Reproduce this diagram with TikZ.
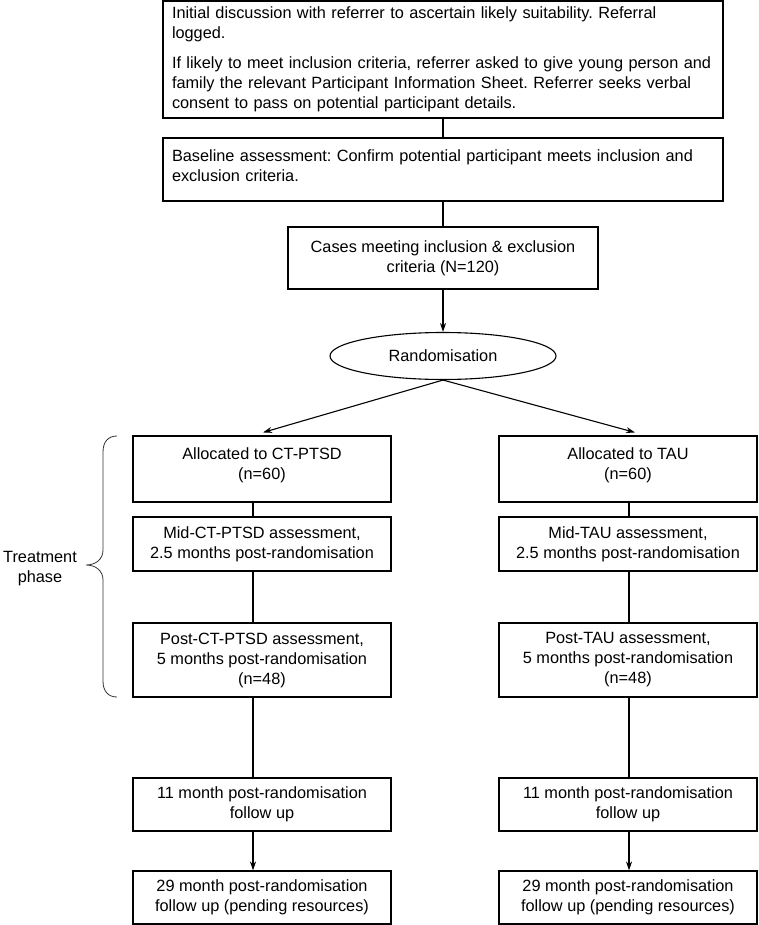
\documentclass[tikz,border=0pt]{standalone}
\usepackage{fontspec}
\setmainfont{Liberation Sans}
\usetikzlibrary{shapes.geometric,arrows.meta}
\frenchspacing
\begin{document}
\begin{tikzpicture}[x=1pt,y=-1pt,
  font=\fontsize{16.3}{20}\selectfont,
  box/.style={draw,line width=1.1pt,align=center,inner sep=0pt,minimum width=258pt},
  widebox/.style={draw,line width=1.1pt,align=left,inner xsep=9pt,inner ysep=0pt,text width=542pt},
  arr/.style={line width=1.1pt,-{Stealth[length=9pt,width=6pt]}},
  ln/.style={line width=1.1pt}]
\useasboundingbox (0,0) rectangle (758,925);

% top part
\node[widebox,minimum height=117pt] (init) at (443,59.5) {Initial discussion with referrer to ascertain likely suitability. Referral\\logged.\\[10pt]If likely to meet inclusion criteria, referrer asked to give young person and\\family the relevant Participant Information Sheet. Referrer seeks verbal\\consent to pass on potential participant details.};
\node[widebox,minimum height=63pt] (base) at (443,169.5) {Baseline assessment: Confirm potential participant meets inclusion and\\exclusion criteria.\\[-13pt]\mbox{}};
\node[box,minimum width=310pt,minimum height=62pt] (cases) at (443,258) {Cases meeting inclusion \& exclusion\\criteria (N=120)};
\node[draw,ellipse,line width=1.1pt,inner sep=0pt,minimum width=226pt,minimum height=47pt] (rand) at (443,356) {Randomisation};

% left column
\node[box,minimum height=66pt] (allocL) at (262,469) {Allocated to CT-PTSD\\(n=60)\\[-10pt]\mbox{}};
\node[box,minimum height=54pt] (midL) at (262,544) {Mid-CT-PTSD assessment,\\2.5 months post-randomisation};
\node[box,minimum height=74pt] (postL) at (262,660) {Post-CT-PTSD assessment,\\5 months post-randomisation\\(n=48)};
\node[box,minimum height=53pt] (fuL) at (262,804.5) {11 month post-randomisation\\follow up};
\node[box,minimum height=53pt] (fu2L) at (262,897.5) {29 month post-randomisation\\follow up (pending resources)};

% right column
\node[box,minimum height=66pt] (allocR) at (628,469) {Allocated to TAU\\(n=60)\\[-10pt]\mbox{}};
\node[box,minimum height=54pt] (midR) at (628,544) {Mid-TAU assessment,\\2.5 months post-randomisation};
\node[box,minimum height=74pt] (postR) at (628,660) {Post-TAU assessment,\\5 months post-randomisation\\(n=48)};
\node[box,minimum height=53pt] (fuR) at (628,804.5) {11 month post-randomisation\\follow up};
\node[box,minimum height=53pt] (fu2R) at (628,897.5) {29 month post-randomisation\\follow up (pending resources)};

% connectors
\draw[ln] (init.south) -- (base.north);
\draw[ln] (base.south) -- (cases.north);
\draw[arr] (cases.south) -- (rand.north);
\draw[arr] (rand.south) -- ([xshift=1pt,yshift=3pt]allocL.north);
\draw[arr] (rand.south) -- ([xshift=7pt,yshift=3pt]allocR.north);

\coordinate (colL) at (253,0);
\coordinate (colR) at (629,0);
\draw[ln] (allocL.south -| colL) -- (midL.north -| colL);
\draw[ln] (midL.south -| colL) -- (postL.north -| colL);
\draw[ln] (postL.south -| colL) -- (fuL.north -| colL);
\draw[arr] (fuL.south -| colL) -- (fu2L.north -| colL);
\draw[ln] (allocR.south -| colR) -- (midR.north -| colR);
\draw[ln] (midR.south -| colR) -- (postR.north -| colR);
\draw[ln] (postR.south -| colR) -- (fuR.north -| colR);
\draw[arr] (fuR.south -| colR) -- (fu2R.north -| colR);

% brace and label
\draw[line width=0.8pt,black!80] (117,436) .. controls (108,436) and (103,442) .. (103,452) -- (103,550)
  .. controls (103,559) and (96,565) .. (86,565)
  .. controls (96,565) and (103,571) .. (103,580) -- (103,681)
  .. controls (103,691) and (108,697) .. (117,697);
\node[align=center] (phase) at (40,568.5) {Treatment\\phase};
\end{tikzpicture}
\end{document}
